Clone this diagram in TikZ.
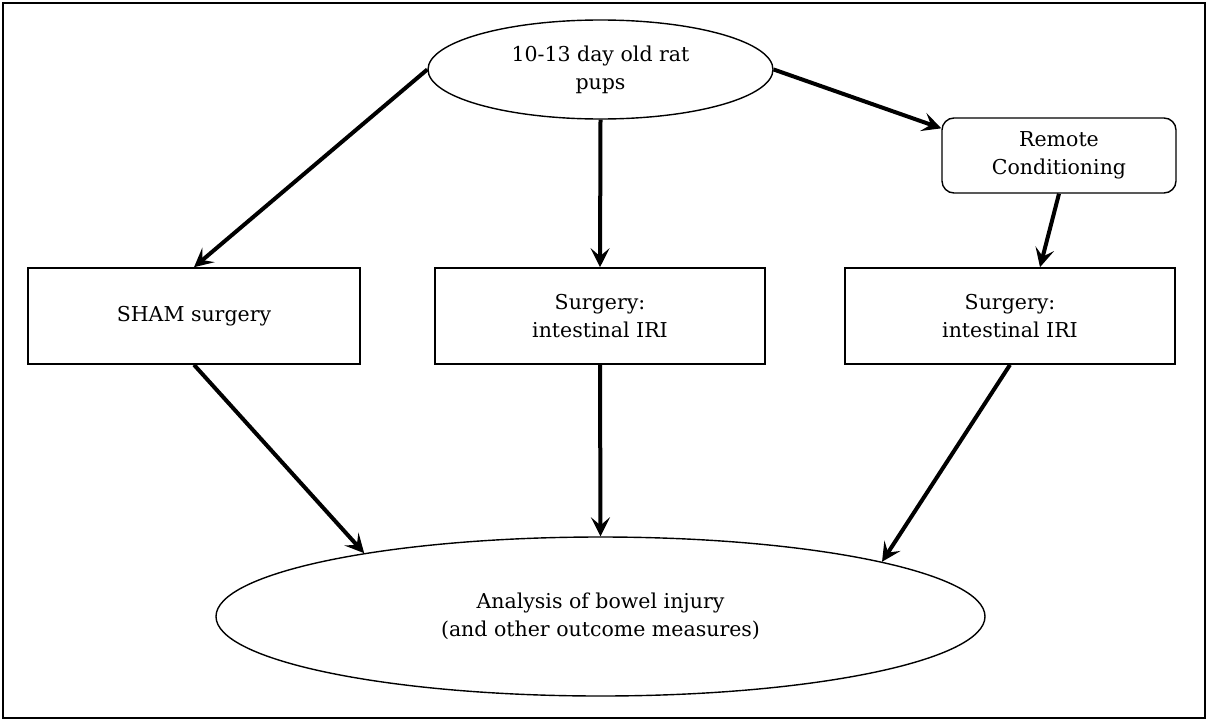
\documentclass[tikz,border=0pt]{standalone}
\usepackage{fontspec}
\setmainfont{DejaVu Serif}
\usetikzlibrary{arrows.meta,shapes.geometric}
\begin{document}
\begin{tikzpicture}[x=1pt,y=-1pt,
  txt/.style={font=\fontsize{20.5}{28}\selectfont, align=center, text=black},
  box/.style={txt, draw, line width=1.6pt, minimum width=332pt, minimum height=96pt, inner sep=0pt},
  oval/.style={txt, draw, line width=1.4pt, ellipse, inner sep=0pt},
  arr/.style={line width=4pt, -{Stealth[length=19pt,width=19pt,inset=8pt]}}]
\useasboundingbox (0,0) rectangle (1207,720);
\draw[line width=2.2pt] (3,3) rectangle (1205,718);
\node[oval, minimum width=345pt, minimum height=99pt] (top) at (600.5,69.5) {10-13 day old rat\\pups};
\node[txt, draw, line width=1.4pt, rounded corners=12pt, minimum width=234pt, minimum height=75pt, inner sep=0pt] (rc) at (1059,155.5) {Remote\\Conditioning};
\node[box] (sham) at (194,316) {SHAM surgery};
\node[box, minimum width=330pt] (mid) at (600,316) {Surgery:\\intestinal IRI};
\node[box, minimum width=330pt] (right) at (1010,316) {Surgery:\\intestinal IRI};
\node[oval, minimum width=769pt, minimum height=159pt] (bot) at (600.5,616.5) {Analysis of bowel injury\\(and other outcome measures)};
\draw[arr] (top.west) -- (sham.north);
\draw[arr] (top.south) -- (mid.north);
\draw[arr] (top.east) -- (rc.167);
\draw[arr] (rc.south) -- ([xshift=30pt]right.north);
\draw[arr] (sham.south) -- (bot.165);
\draw[arr] (mid.south) -- (bot.north);
\draw[arr] (right.south) -- (bot.11);
\end{tikzpicture}
\end{document}
